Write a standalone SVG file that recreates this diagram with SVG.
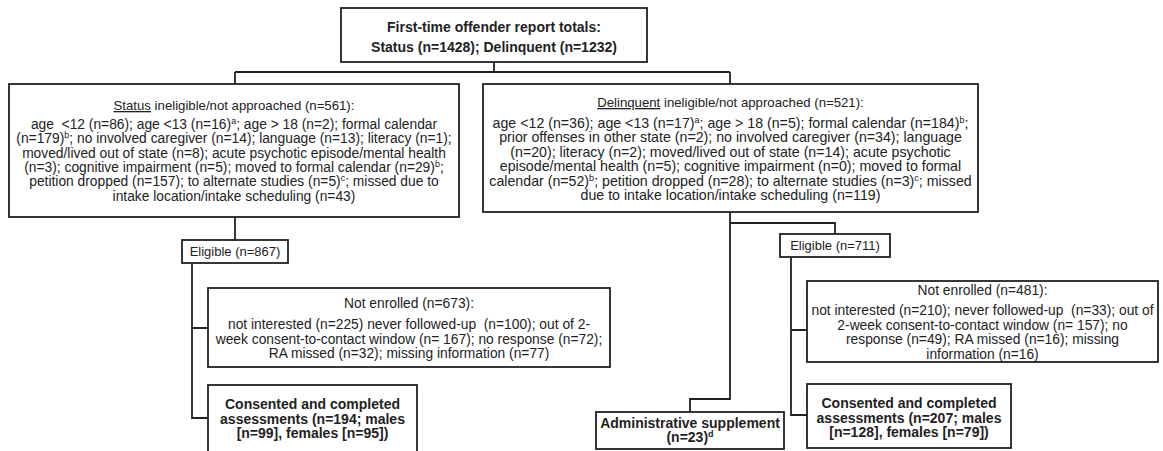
<svg xmlns="http://www.w3.org/2000/svg" width="1163" height="451" viewBox="0 0 1163 451">
<style>
.box{fill:#fff;stroke:#222;stroke-width:1.8}
.ln{fill:none;stroke:#222;stroke-width:1.8}
text{font-family:"Liberation Sans",Arial,sans-serif;fill:#222;text-anchor:middle}
.t{font-size:13.8px}
.td{font-size:14.2px}
.h{font-size:13.2px}
.e{font-size:13px}
.b{font-size:14px;font-weight:bold}
.sup{font-size:9px;baseline-shift:super}
.u{text-decoration:underline}
</style>
<rect width="1163" height="451" fill="#fff"/>
<g id="connectors">
<path class="ln" d="M494 62V72M235 72H730M235 72V84M730 72V84"/>
<path class="ln" d="M235 217V240"/>
<path class="ln" d="M192 263V418H208M192 328H208"/>
<path class="ln" d="M730 212V399H690V412"/>
<path class="ln" d="M730 223H835V234"/>
<path class="ln" d="M791 257V415H807M791 330H807"/>
</g>
<g id="top">
<rect class="box" x="341" y="8" width="306" height="54"/>
<text class="b" x="494" y="32">First-time offender report totals:</text>
<text class="b" x="494" y="52">Status (n=1428); Delinquent (n=1232)</text>
</g>
<g id="status">
<rect class="box" x="9" y="84" width="450" height="133"/>
<text class="h" x="234" y="110"><tspan class="u">Status</tspan> ineligible/not approached (n=561):</text>
<text class="t" x="234" y="129" xml:space="preserve">age  &lt;12 (n=86); age &lt;13 (n=16)<tspan class="sup">a</tspan>; age &gt; 18 (n=2); formal calendar</text>
<text class="t" x="234" y="143.3">(n=179)<tspan class="sup">b</tspan>; no involved caregiver (n=14); language (n=13); literacy (n=1);</text>
<text class="t" x="234" y="157.6">moved/lived out of state (n=8); acute psychotic episode/mental health</text>
<text class="t" x="234" y="171.9">(n=3); cognitive impairment (n=5); moved to formal calendar (n=29)<tspan class="sup">b</tspan>;</text>
<text class="t" x="234" y="186.2">petition dropped (n=157); to alternate studies (n=5)<tspan class="sup">c</tspan>; missed due to</text>
<text class="t" x="234" y="200.5">intake location/intake scheduling (n=43)</text>
</g>
<g id="delinquent">
<rect class="box" x="483" y="84" width="495" height="128"/>
<text class="h" x="730.5" y="107"><tspan class="u">Delinquent</tspan> ineligible/not approached (n=521):</text>
<text class="td" x="730.5" y="128">age &lt;12 (n=36); age &lt;13 (n=17)<tspan class="sup">a</tspan>; age &gt; 18 (n=5); formal calendar (n=184)<tspan class="sup">b</tspan>;</text>
<text class="td" x="730.5" y="142.4">prior offenses in other state (n=2); no involved caregiver (n=34); language</text>
<text class="td" x="730.5" y="156.8">(n=20); literacy (n=2); moved/lived out of state (n=14); acute psychotic</text>
<text class="td" x="730.5" y="171.2">episode/mental health (n=5); cognitive impairment (n=0); moved to formal</text>
<text class="td" x="730.5" y="185.6">calendar (n=52)<tspan class="sup">b</tspan>; petition dropped (n=28); to alternate studies (n=3)<tspan class="sup">c</tspan>; missed</text>
<text class="td" x="730.5" y="200">due to intake location/intake scheduling (n=119)</text>
</g>
<g id="eligible-status">
<rect class="box" x="182" y="240" width="106" height="23"/>
<text class="e" x="235" y="256">Eligible (n=867)</text>
</g>
<g id="notenrolled-status">
<rect class="box" x="208" y="288" width="402" height="79"/>
<text class="t" x="409" y="308">Not enrolled (n=673):</text>
<text class="t" x="409" y="329" xml:space="preserve">not interested (n=225) never followed-up  (n=100); out of 2-</text>
<text class="t" x="409" y="343.5">week consent-to-contact window (n= 167); no response (n=72);</text>
<text class="t" x="409" y="358">RA missed (n=32); missing information (n=77)</text>
</g>
<g id="consented-status">
<rect class="box" x="208" y="385" width="209" height="80"/>
<text class="b" x="312.5" y="409">Consented and completed</text>
<text class="b" x="312.5" y="423.5">assessments (n=194; males</text>
<text class="b" x="312.5" y="438">[n=99], females [n=95])</text>
</g>
<g id="eligible-delinquent">
<rect class="box" x="780" y="234" width="110" height="23"/>
<text class="e" x="835" y="250">Eligible (n=711)</text>
</g>
<g id="notenrolled-delinquent">
<rect class="box" x="807" y="281" width="351" height="81"/>
<text class="t" x="982.5" y="295">Not enrolled (n=481):</text>
<text class="t" x="982.5" y="315" xml:space="preserve">not interested (n=210); never followed-up  (n=33); out of</text>
<text class="t" x="982.5" y="329.5">2-week consent-to-contact window (n= 157); no</text>
<text class="t" x="982.5" y="344">response (n=49); RA missed (n=16); missing</text>
<text class="t" x="982.5" y="358.5">information (n=16)</text>
</g>
<g id="consented-delinquent">
<rect class="box" x="807" y="384" width="204" height="64"/>
<text class="b" x="909" y="408">Consented and completed</text>
<text class="b" x="909" y="422.5">assessments (n=207; males</text>
<text class="b" x="909" y="437">[n=128], females [n=79])</text>
</g>
<g id="admin">
<rect class="box" x="596" y="412" width="188" height="37"/>
<text class="b" x="690" y="428">Administrative supplement</text>
<text class="b" x="690" y="442">(n=23)<tspan class="sup">d</tspan></text>
</g>
</svg>
